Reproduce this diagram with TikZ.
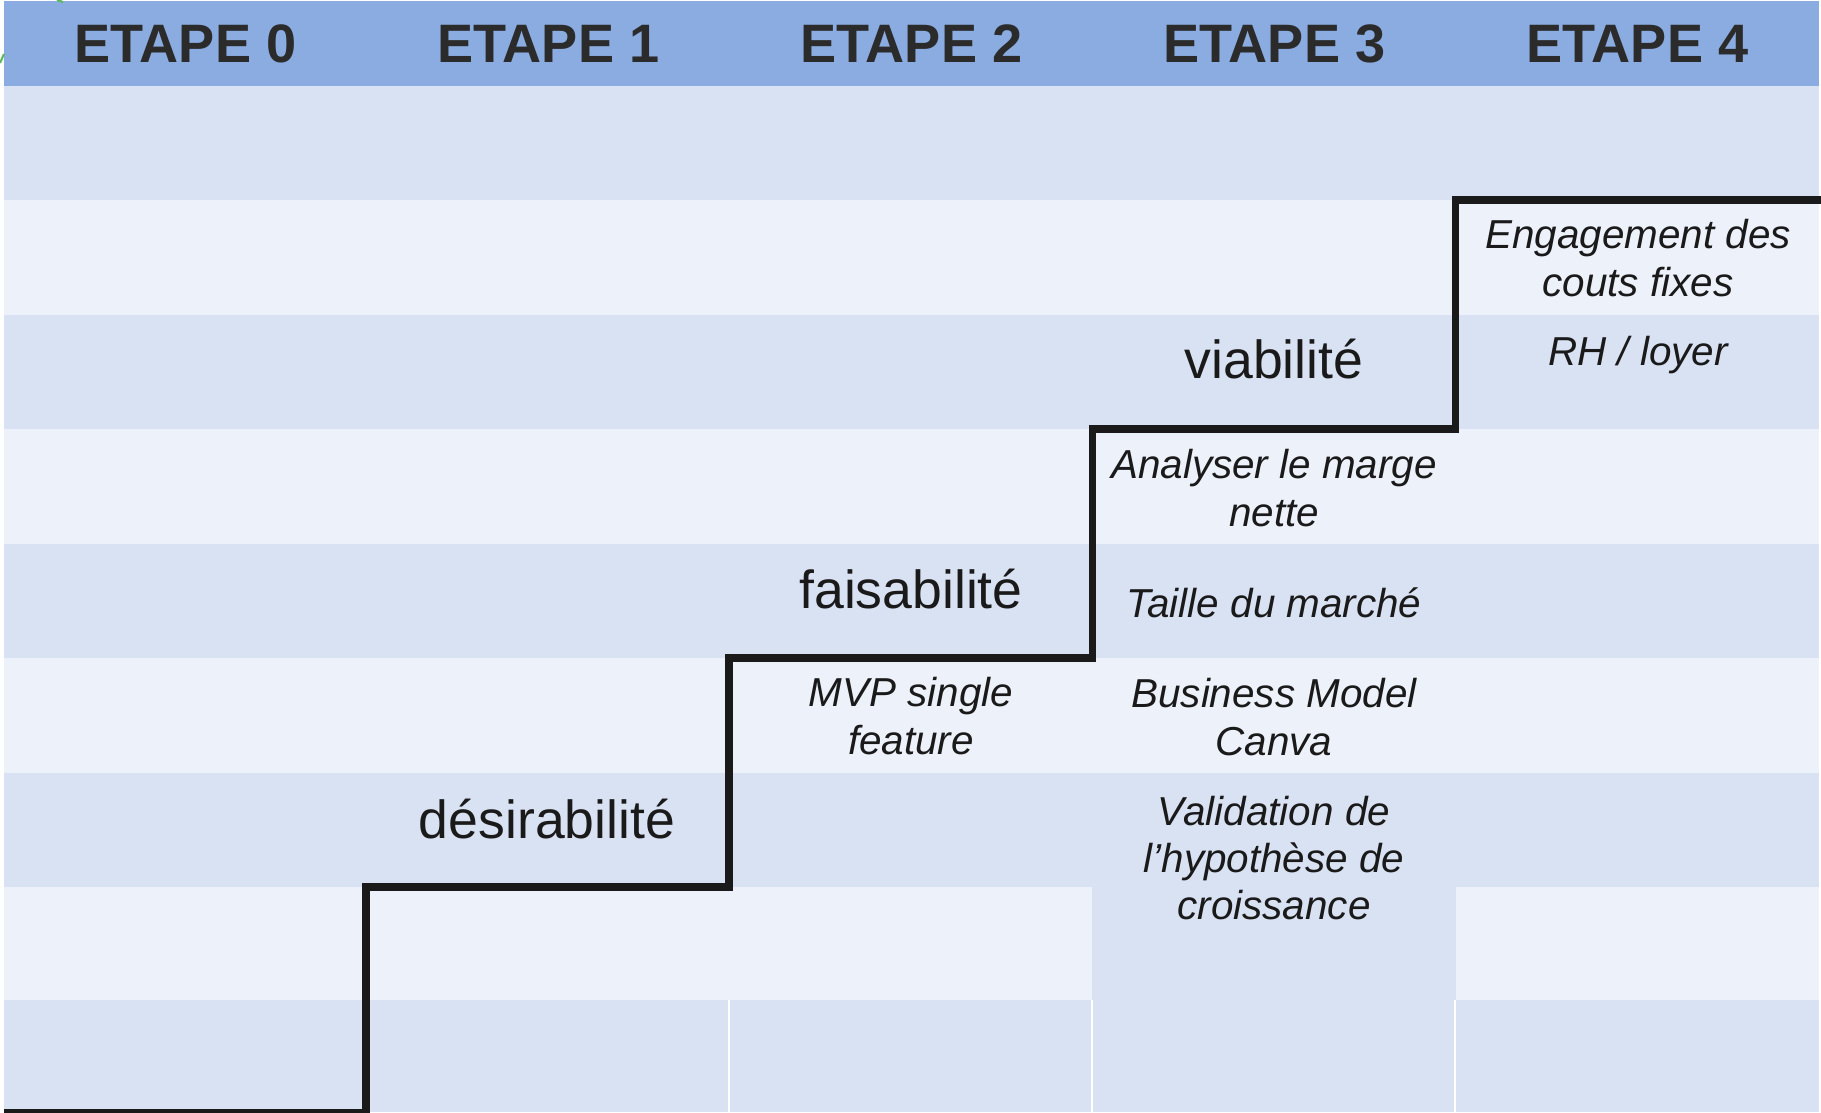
\documentclass[tikz,border=0pt]{standalone}
\usepackage{fontspec}
\setmainfont{Liberation Sans}

\definecolor{headblue}{HTML}{8AACE0}
\definecolor{rowdark}{HTML}{D9E2F3}
\definecolor{rowlight}{HTML}{EDF1FA}
\definecolor{inkgray}{HTML}{2B2B2B}
\definecolor{inkdark}{HTML}{1A1A1A}
\definecolor{markgreen}{HTML}{5CB85C}

\tikzset{
    header/.style={inner sep=0pt, font=\fontsize{30.8}{36}\selectfont\bfseries, text=inkgray},
    pillar/.style={inner sep=0pt, font=\fontsize{30.5}{36}\selectfont, text=inkdark},
    task/.style={inner sep=0pt, align=center, font=\fontsize{23}{27}\selectfont\itshape, text=inkdark},
    stairs/.style={line width=4pt, draw=inkdark, line join=miter},
}

\begin{document}
\begin{tikzpicture}[x=0.02cm, y=-0.02cm]
    \useasboundingbox (0,0) rectangle (1821,1112);

    % table background
    \fill[headblue] (4,1) rectangle (1819,86);
    \foreach \top/\bot in {86/200, 315/429, 544/658, 773/887, 1000/1112}
        \fill[rowdark] (4,\top) rectangle (1819,\bot);
    \foreach \top/\bot in {200/315, 429/544, 658/773, 887/1000}
        \fill[rowlight] (4,\top) rectangle (1819,\bot);
    \fill[rowdark] (1092,773) rectangle (1456,1112);
    \foreach \x in {729,1092,1455}
        \draw[white, line width=1pt] (\x,1000) -- (\x,1112);
    \draw[markgreen, line width=1.2pt] (0,63) -- (4,54);
    \draw[markgreen, line width=1.2pt] (57,0) -- (63,2);

    % headers
    \foreach \i in {0,...,4}
        \node[header] (head\i) at ({185.5+363*\i},44) {ETAPE \i};

    % stairs
    \draw[stairs] (4,1112) -- (366,1112) -- (366,887) -- (729,887) -- (729,658)
        -- (1092,658) -- (1092,429) -- (1455,429) -- (1455,200) -- (1821,200);

    \node[pillar] (desir) at (547,819) {désirabilité};
    \node[pillar] (faisab) at (911,589) {faisabilité};
    \node[pillar] (viab) at (1274,359) {viabilité};

    \node[task] (mvp) at (911,716) {MVP single\\feature};
    \node[task] (marge) at (1274,488) {Analyser le marge\\nette};
    \node[task] (taille) at (1274,603) {Taille du marché};
    \node[task] (bmc) at (1274,717) {Business Model\\Canva};
    \node[task] (valid) at (1274,858) {Validation de\\l’hypothèse de\\croissance};
    \node[task] (engag) at (1638,258) {Engagement des\\couts fixes};
    \node[task] (rh) at (1638,355) {RH / loyer};
\end{tikzpicture}
\end{document}
